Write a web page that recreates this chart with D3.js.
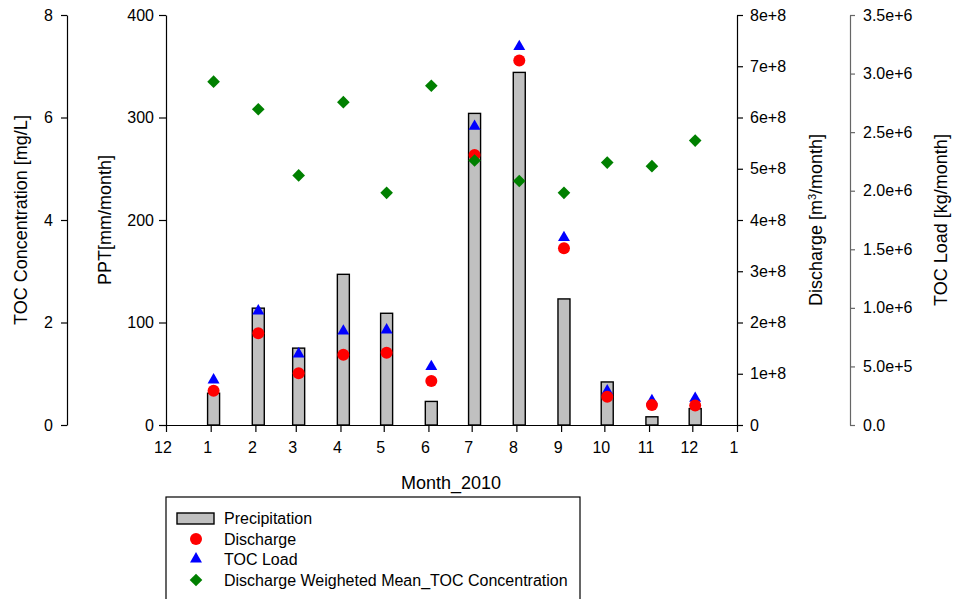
<!DOCTYPE html>
<html>
<head>
<meta charset="utf-8">
<script src="https://cdn.jsdelivr.net/npm/d3@7"></script>
<style>
  body { margin: 0; background: #fff; }
  text { font-family: "Liberation Sans", Arial, sans-serif; }
</style>
</head>
<body>
<div id="chart"></div>
<script>
// month numbers of 2010 (points sit on the 3rd of each month)
var months = [1, 2, 3, 4, 5, 6, 7, 8, 9, 10, 11, 12];
var ppt = [31, 114, 75, 147, 109, 23, 304, 344, 123, 42, 8, 16];              // mm/month
var discharge = [6.7e7, 1.79e8, 1.01e8, 1.37e8, 1.41e8, 8.6e7, 5.27e8, 7.11e8, 3.45e8, 5.5e7, 3.9e7, 3.8e7]; // m3/month
var tocLoad = [3.84e5, 9.73e5, 6.06e5, 8.02e5, 8.11e5, 4.98e5, 2.55e6, 3.23e6, 1.60e6, 2.9e5, 2.07e5, 2.28e5]; // kg/month
var tocConc = [6.70, 6.16, 4.87, 6.30, 4.53, 6.62, 5.16, 4.76, 4.53, 5.12, 5.05, 5.55]; // mg/L
var legendLabels = ["Precipitation", "Discharge", "TOC Load", "Discharge Weigheted Mean_TOC Concentration"];

var svgWidth = 953;
var svgHeight = 599;

var svg = d3.select("#chart")
  .append("svg")
  .attr("width", svgWidth)
  .attr("height", svgHeight);

var plotTop = 15, plotBottom = 425;

var data = months.map(function(m, i) {
  return {
    date: new Date(2010, m - 1, 3),
    ppt: ppt[i],
    discharge: discharge[i],
    load: tocLoad[i],
    conc: tocConc[i]
  };
});

// scales
var x = d3.scaleTime()
  .domain([new Date(2009, 11, 1), new Date(2011, 0, 1)])
  .range([166, 737]);

var yPpt = d3.scaleLinear().domain([0, 400]).range([plotBottom, plotTop]);
var yConc = d3.scaleLinear().domain([0, 8]).range([plotBottom, plotTop]);
var yDis = d3.scaleLinear().domain([0, 8e8]).range([plotBottom, plotTop]);
var yLoad = d3.scaleLinear().domain([0, 3.5e6]).range([plotBottom, plotTop]);

function styleAxis(g, color) {
  g.selectAll("path, line").attr("stroke", color || "#000").attr("stroke-width", 1.2);
  g.selectAll("text").attr("font-size", 16).attr("fill", "#000")
    .attr("font-family", "'Liberation Sans', Arial, sans-serif");
}

// axes
var concAxis = svg.append("g")
  .attr("transform", "translate(67,0)")
  .call(d3.axisLeft(yConc).tickValues([0, 2, 4, 6, 8]).tickFormat(d3.format("d"))
    .tickSize(6).tickSizeOuter(0).tickPadding(8));
styleAxis(concAxis);

var pptAxis = svg.append("g")
  .attr("transform", "translate(166,0)")
  .call(d3.axisLeft(yPpt).tickValues([0, 100, 200, 300, 400])
    .tickSize(7).tickSizeOuter(0).tickPadding(5));
styleAxis(pptAxis);

var disAxis = svg.append("g")
  .attr("transform", "translate(737,0)")
  .call(d3.axisRight(yDis).ticks(8)
    .tickFormat(function(d) { return d === 0 ? "0" : (d / 1e8) + "e+8"; })
    .tickSize(6).tickSizeOuter(0).tickPadding(7));
styleAxis(disAxis);

var loadAxis = svg.append("g")
  .attr("transform", "translate(850,0)")
  .call(d3.axisRight(yLoad).tickValues(d3.range(0, 3.5e6 + 1, 5e5))
    .tickFormat(function(d) { return d === 0 ? "0.0" : d3.format(".1e")(d); })
    .tickSize(5).tickSizeOuter(0).tickPadding(8));
styleAxis(loadAxis, "#666");

var xAxis = svg.append("g")
  .attr("transform", "translate(0," + plotBottom + ")")
  .call(d3.axisBottom(x).ticks(d3.timeMonth.every(1)).tickFormat(d3.timeFormat("%-m"))
    .tickSize(7).tickSizeOuter(0).tickPadding(10));
styleAxis(xAxis);
xAxis.selectAll(".tick text").attr("dx", -3.5);

// axis titles
function vTitle(xPos, label) {
  return svg.append("text")
    .attr("transform", "translate(" + xPos + ",220) rotate(-90)")
    .attr("text-anchor", "middle")
    .attr("font-size", 18)
    .text(label);
}
vTitle(27, "TOC Concentration [mg/L]");
vTitle(111, "PPT[mm/month]");
vTitle(947, "TOC Load [kg/month]");
var dTitle = vTitle(822, "Discharge [m");
dTitle.append("tspan").attr("baseline-shift", "super").attr("font-size", 11).text("3");
dTitle.append("tspan").text("/month]");

svg.append("text")
  .attr("x", 451)
  .attr("y", 489)
  .attr("text-anchor", "middle")
  .attr("font-size", 18)
  .text("Month_2010");

// bars
svg.append("g").selectAll("rect")
  .data(data).enter()
  .append("rect")
  .attr("x", d => x(d.date) - 6)
  .attr("width", 12)
  .attr("y", d => yPpt(d.ppt))
  .attr("height", d => plotBottom - yPpt(d.ppt))
  .attr("fill", "#c0c0c0")
  .attr("stroke", "#000")
  .attr("stroke-width", 1.4);

// TOC load triangles
svg.append("g").selectAll("path")
  .data(data).enter()
  .append("path")
  .attr("d", d3.symbol().type(d3.symbolTriangle).size(62))
  .attr("transform", d => "translate(" + x(d.date) + "," + yLoad(d.load) + ")")
  .attr("fill", "#0000ff");

// discharge circles
svg.append("g").selectAll("circle")
  .data(data).enter()
  .append("circle")
  .attr("cx", d => x(d.date))
  .attr("cy", d => yDis(d.discharge))
  .attr("r", 6)
  .attr("fill", "#ff0000");

// concentration diamonds
svg.append("g").selectAll("path")
  .data(data).enter()
  .append("path")
  .attr("d", d3.symbol().type(d3.symbolSquare).size(80))
  .attr("transform", d => "translate(" + x(d.date) + "," + yConc(d.conc) + ") rotate(45)")
  .attr("fill", "#008000");

// legend
var legend = svg.append("g");
legend.append("rect")
  .attr("x", 166).attr("y", 497)
  .attr("width", 414).attr("height", 120)
  .attr("fill", "#fff").attr("stroke", "#000").attr("stroke-width", 1.2);

var rowY = [518, 539, 559, 580];
legend.append("rect")
  .attr("x", 177).attr("y", rowY[0] - 5)
  .attr("width", 37).attr("height", 11)
  .attr("fill", "#c0c0c0").attr("stroke", "#000").attr("stroke-width", 1.4);
legend.append("circle")
  .attr("cx", 196).attr("cy", rowY[1]).attr("r", 6).attr("fill", "#ff0000");
legend.append("path")
  .attr("d", d3.symbol().type(d3.symbolTriangle).size(62))
  .attr("transform", "translate(196," + rowY[2] + ")")
  .attr("fill", "#0000ff");
legend.append("path")
  .attr("d", d3.symbol().type(d3.symbolSquare).size(80))
  .attr("transform", "translate(196," + rowY[3] + ") rotate(45)")
  .attr("fill", "#008000");

legend.selectAll("text.lab")
  .data(legendLabels).enter()
  .append("text")
  .attr("class", "lab")
  .attr("x", 224)
  .attr("y", (d, i) => rowY[i])
  .attr("dy", "0.35em")
  .attr("font-size", 16)
  .text(d => d);
</script>
</body>
</html>
